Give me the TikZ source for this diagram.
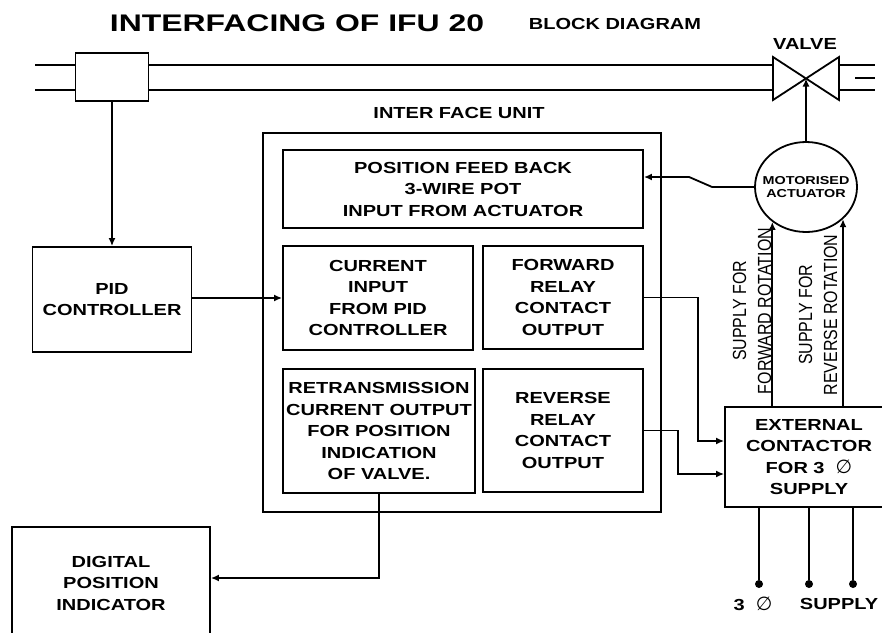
\documentclass[tikz,border=0pt]{standalone}
\usepackage{fontspec}
\setmainfont{Liberation Sans}[FakeStretch=1.25]
\newfontfamily\titlefont{Liberation Sans}[FakeStretch=1.33]
\newfontfamily\rotfont{Liberation Sans}[FakeStretch=0.84]
\newfontfamily\symfont{DejaVu Sans}
\usetikzlibrary{arrows.meta,shapes.geometric}
\def\phase{{\symfont\mdseries\fontsize{19}{19}\selectfont ∅}}
\tikzset{
	blockbox/.style={draw, line width=1.8pt, inner sep=0pt, align=center, font=\fontsize{16}{21.5}\selectfont\bfseries},
	boxlabel/.style={inner sep=0pt, font=\fontsize{16}{21.5}\selectfont\bfseries},
	rotlabel/.style={rotate=90, inner sep=0pt, align=center, font=\rotfont\fontsize{19}{25}\selectfont},
	signal/.style={line width=1.8pt, -{Latex[length=8pt,width=7pt]}},
	wire/.style={line width=1.8pt},
	phasedot/.style={circle, fill=black, inner sep=0pt, minimum size=8pt},
}

\begin{document}
\begin{tikzpicture}[x=1pt, y=-1pt]
			%%%%% START %%%%%
			
			\path[use as bounding box, fill=white] (0,0) rectangle (882,632);
			
			\node[inner sep=0pt, font=\titlefont\fontsize{24}{28}\selectfont\bfseries] (title) at (297,23) {INTERFACING OF IFU 20};
			\node[boxlabel] (subtitle) at (615,24) {BLOCK DIAGRAM};
			
			% pipe line with sensor and valve
			\node[blockbox, minimum width=73pt, minimum height=48pt] (pipebox) at (112,77) {};
			\draw[wire] (35,65) -- (75.5,65);
			\draw[wire] (35,90) -- (75.5,90);
			\draw[wire] (148.5,65) -- (773,65);
			\draw[wire] (148.5,90) -- (773,90);
			\draw[wire] (773,57) -- (773,100) -- (839,57) -- (839,100) -- cycle;
			\draw[wire] (839,65) -- (875,65);
			\draw[wire] (839,90) -- (875,90);
			\draw[wire] (855,78) -- (875,78);
			\coordinate (valve) at (806,78.5);
			\node[boxlabel] (valvelabel) at (805,44) {VALVE};
			
			% actuator
			\node[draw, ellipse, line width=1.8pt, minimum width=102pt, minimum height=90pt, inner sep=0pt] (act) at (806,187) {};
			\node[inner sep=0pt, align=center, font=\fontsize{11.5}{13}\selectfont\bfseries] (acttext) at (act) {MOTORISED\\ACTUATOR};
			
			% interface unit
			\node[boxlabel] (ifulabel) at (459,113) {INTER FACE UNIT};
			\node[blockbox, minimum width=398pt, minimum height=379pt] (ifu) at (462,322.5) {};
			\node[blockbox, minimum width=360pt, minimum height=78pt] (feedback) at (463,189) {POSITION FEED BACK\\3-WIRE POT\\INPUT FROM ACTUATOR};
			\node[blockbox, minimum width=190pt, minimum height=104pt] (current) at (378,298) {CURRENT\\INPUT\\FROM PID\\CONTROLLER};
			\node[blockbox, minimum width=160pt, minimum height=103pt] (fwd) at (563,297.5) {FORWARD\\RELAY\\CONTACT\\OUTPUT};
			\node[blockbox, minimum width=192pt, minimum height=124pt] (retrans) at (379,431) {RETRANSMISSION\\CURRENT OUTPUT\\FOR POSITION\\INDICATION\\OF VALVE.};
			\node[blockbox, minimum width=160pt, minimum height=123pt] (rev) at (563,430.5) {REVERSE\\RELAY\\CONTACT\\OUTPUT};
			
			\node[blockbox, minimum width=159pt, minimum height=105pt] (pid) at (112,299.5) {PID\\CONTROLLER};
			\node[blockbox, minimum width=198pt, minimum height=112pt] (digital) at (111,583) {DIGITAL\\POSITION\\INDICATOR};
			\node[blockbox, minimum width=168pt, minimum height=100pt] (ext) at (809,457) {EXTERNAL\\CONTACTOR\\FOR 3~~\phase\\SUPPLY};
			
			% connections
			\draw[signal] (pipebox.south) -- (pid.north);
			\draw[signal] ([yshift=1.5pt]pid.east) -- ([yshift=1.5pt]pid.east -| current.west);
			\draw[signal] (act.north) -- (valve);
			\draw[signal] (act.west) -- ++(-42,0) -- ++(-23,-10) -- ([yshift=12pt]feedback.east);
			\draw[signal] (fwd.east) -- ++(54,0) |- ([yshift=16pt]ext.west);
			\draw[signal] (rev.east) -- ++(34,0) |- ([yshift=-17pt]ext.west);
			\draw[signal] (retrans.south) |- ([yshift=5pt]digital.east);
			\draw[signal] (act.-134 |- ext.north) -- (act.-134);
			\draw[signal] (act.-41.5 |- ext.north) -- (act.-41.5);
			
			\node[rotlabel] (fwdlabel) at (752,311) {SUPPLY FOR\\FORWARD ROTATION};
			\node[rotlabel] (revlabel) at (818,315) {SUPPLY FOR\\REVERSE ROTATION};
			
			% three phase supply
			\node[phasedot] (ph1) at (759,584) {};
			\node[phasedot] (ph2) at (809,584) {};
			\node[phasedot] (ph3) at (853,584) {};
			\draw[wire] (ph1 |- ext.south) -- (ph1);
			\draw[wire] (ph2 |- ext.south) -- (ph2);
			\draw[wire] (ph3 |- ext.south) -- (ph3);
			\node[boxlabel] (phaselabel) at (753,604) {3~~\phase};
			\node[boxlabel] (supplylabel) at (839,604) {SUPPLY};
			
			%%%%% END %%%%%
\end{tikzpicture}
\end{document}
